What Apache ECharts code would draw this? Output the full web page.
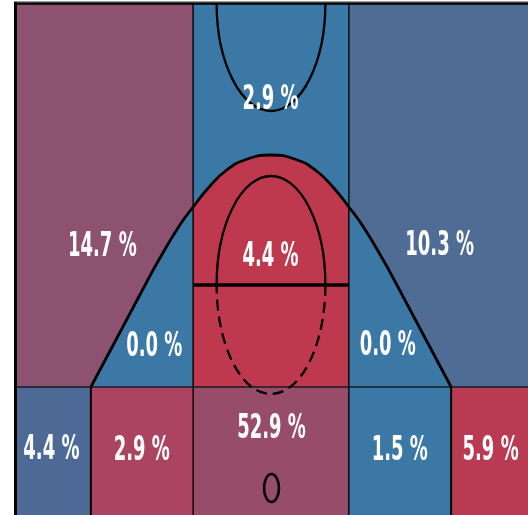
<!DOCTYPE html>
<html><head><meta charset="utf-8">
<script src="https://cdn.jsdelivr.net/npm/echarts@6/dist/echarts.min.js"></script>
<style>html,body{margin:0;padding:0;background:#fff}#c{width:528px;height:515px}</style>
</head><body><div id="c"></div>
<script>
// ---- court frame (court units) ----
const X_MIN = -257.5, X_MAX = 257.5, Y_MIN = 0, Y_MAX = 512;
const LANE_X = 78, CORNER_X = 180.5, ROW_Y = 128, FT_Y = 230;

// ---- zones: share of shots (%) and colours ----
const ZONE_NAMES = ['Left wing 3', 'Top of key 3', 'Right wing 3', 'Left mid', 'Paint', 'Right mid',
                    'Left corner 3', 'Left baseline', 'Restricted area', 'Right baseline', 'Right corner 3'];
const ZONE_SHARE = [14.7, 2.9, 10.3, 0.0, 4.4, 0.0, 4.4, 2.9, 52.9, 1.5, 5.9];
const ZONE_COLORS = ['#8C5270', '#3B78A5', '#4F6C95', '#3B78A5', '#BE394D', '#3B78A5',
                     '#4D6A96', '#AB4460', '#974D6A', '#3B78A5', '#B93A53'];
const LABEL_X = [-169, -0.5, 169, -117, -0.5, 117, -220, -129.5, 0.5, 129, 220];
const LABEL_Y = [268, 415, 269, 168, 257.5, 168.5, 64.5, 64, 85.5, 64, 64];

// rectangular zones: [x0, x1, y0, y1, zoneIndex]
const RECT_ZONES_TOP = [
  [X_MIN, -LANE_X, ROW_Y, Y_MAX, 0],
  [-LANE_X, LANE_X, ROW_Y, Y_MAX, 1],
  [LANE_X, X_MAX, ROW_Y, Y_MAX, 2]
];
const RECT_ZONES_BOTTOM = [
  [X_MIN, -CORNER_X, Y_MIN, ROW_Y, 6],
  [-CORNER_X, -LANE_X, Y_MIN, ROW_Y, 7],
  [-LANE_X, LANE_X, Y_MIN, ROW_Y, 8],
  [LANE_X, CORNER_X, Y_MIN, ROW_Y, 9],
  [CORNER_X, X_MAX, Y_MIN, ROW_Y, 10]
];

// three-point line
const ARC_X = [-180.5, -124, -113, -92, -78, -62, -45, -25, 0, 25, 45, 62, 78, 92, 113, 124, 180.5];
const ARC_Y = [128, 234, 254, 289, 308, 328, 344.5, 355.5, 360, 355.5, 344.5, 328, 308, 289, 254, 234, 128];

// straight court lines: [x0, y0, x1, y1, width, colour]
const COURT_LINES = [
  [-LANE_X, Y_MIN, -LANE_X, Y_MAX, 1.6, 'rgba(0,0,0,0.85)'],
  [LANE_X, Y_MIN, LANE_X, Y_MAX, 1.6, 'rgba(0,0,0,0.85)'],
  [X_MIN, ROW_Y, X_MAX, ROW_Y, 2, 'rgba(20,20,30,0.7)'],
  [-CORNER_X, Y_MIN, -CORNER_X, ROW_Y, 2, '#000'],
  [CORNER_X, Y_MIN, CORNER_X, ROW_Y, 2, '#000'],
  [-LANE_X, FT_Y, LANE_X, FT_Y, 3.5, '#000'],
  [X_MIN + 1.5, Y_MIN, X_MIN + 1.5, Y_MAX + 1, 3, '#000'],
  [X_MIN, Y_MAX - 0.5, X_MAX, Y_MAX - 0.5, 2.5, '#000'],
  [X_MIN, Y_MAX + 1.5, X_MAX, Y_MAX + 1.5, 1, '#999']
];

// elliptical court lines: [cx, cy, rx, ry, part(0 full,1 upper,2 lower), dashed]
const COURT_ELLIPSES = [
  [0, FT_Y, 54.5, 109, 1, 0],
  [0, FT_Y, 54.5, 109, 2, 1],
  [0, Y_MAX, 54.5, 108, 2, 0],
  [0.5, 27, 7.5, 14, 0, 0]
];

const arcData = ARC_X.map((x, i) => [x, ARC_Y[i]]);
const paintData = arcData.filter(p => Math.abs(p[0]) <= LANE_X);
const labelData = ZONE_SHARE.map((v, i) => [LABEL_X[i], LABEL_Y[i], i]);

function rectItem(params, api) {
  const p0 = api.coord([api.value(0), api.value(3)]);
  const p1 = api.coord([api.value(1), api.value(2)]);
  return {type: 'rect', shape: {x: p0[0], y: p0[1], width: p1[0] - p0[0], height: p1[1] - p0[1]},
          style: {fill: ZONE_COLORS[api.value(4)]}};
}
function lineItem(params, api) {
  const d = COURT_LINES[params.dataIndex];
  const a = api.coord([d[0], d[1]]), b = api.coord([d[2], d[3]]);
  return {type: 'line', shape: {x1: a[0], y1: a[1], x2: b[0], y2: b[1]},
          style: {stroke: d[5], lineWidth: d[4]}};
}
function ellipseItem(params, api) {
  const d = COURT_ELLIPSES[params.dataIndex];
  const c = api.coord([d[0], d[1]]);
  const s = api.size([d[2], d[3]]);
  const rx = s[0], ry = s[1];
  const up = `M ${c[0] - rx} ${c[1]} A ${rx} ${ry} 0 0 1 ${c[0] + rx} ${c[1]}`;
  const low = `M ${c[0] + rx} ${c[1]} A ${rx} ${ry} 0 0 1 ${c[0] - rx} ${c[1]}`;
  const path = d[4] === 1 ? up : d[4] === 2 ? low : (up + ` A ${rx} ${ry} 0 0 1 ${c[0] - rx} ${c[1]} Z`);
  return {type: 'path', shape: {pathData: path},
          style: {fill: 'none', stroke: '#000', lineWidth: d[4] === 0 && d[2] < 20 ? 2.6 : 2.3,
                  lineDash: d[5] ? [11, 6] : null}};
}
function textItem(params, api) {
  const p = api.coord([api.value(0), api.value(1)]);
  const i = api.value(2);
  return {type: 'text', x: p[0], y: p[1], scaleX: 1, scaleY: 1.88,
          style: {text: ZONE_SHARE[i].toFixed(1) + ' %', fill: '#fff', fontFamily: 'DejaVu Sans',
                  fontWeight: 'bold', fontSize: 18, align: 'center', verticalAlign: 'middle'}};
}

const chart = echarts.init(document.getElementById('c'), null, {renderer: 'canvas'});
chart.setOption({
  animation: false,
  backgroundColor: '#fff',
  grid: {left: 14, right: -1, top: 3, bottom: 0},
  xAxis: {type: 'value', min: X_MIN, max: X_MAX, show: false},
  yAxis: {type: 'value', min: Y_MIN, max: Y_MAX, show: false},
  series: [
    {type: 'custom', z: 1, silent: true, renderItem: rectItem, data: RECT_ZONES_TOP},
    {type: 'line', z: 2, silent: true, data: arcData, smooth: 0.5, showSymbol: false,
     lineStyle: {width: 0}, areaStyle: {color: ZONE_COLORS[3], opacity: 1}},
    {type: 'line', z: 3, silent: true, data: paintData, smooth: 0.5, showSymbol: false,
     lineStyle: {width: 0}, areaStyle: {color: ZONE_COLORS[4], opacity: 1}},
    {type: 'custom', z: 4, silent: true, renderItem: rectItem, data: RECT_ZONES_BOTTOM},
    {type: 'custom', z: 5, silent: true, renderItem: lineItem, data: COURT_LINES.map((d, i) => [d[0], d[1], i])},
    {type: 'line', z: 6, silent: true, data: arcData, smooth: 0.5, showSymbol: false,
     lineStyle: {width: 2.8, color: '#000'}},
    {type: 'custom', z: 7, silent: true, renderItem: ellipseItem, data: COURT_ELLIPSES.map((d, i) => [d[0], d[1], i])},
    {type: 'custom', z: 8, silent: true, renderItem: textItem, data: labelData}
  ]
});
</script></body></html>
